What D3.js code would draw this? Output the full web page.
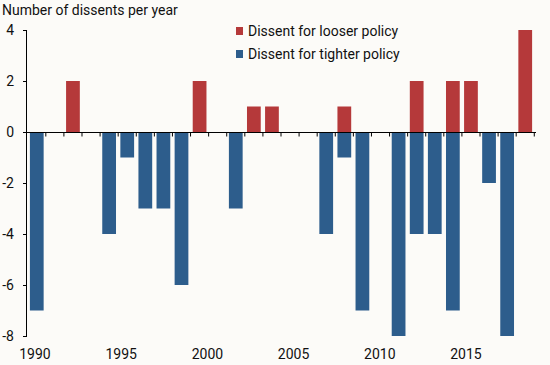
<!DOCTYPE html>
<html>
<head>
<meta charset="utf-8">
<script src="https://cdn.jsdelivr.net/npm/d3@7/dist/d3.min.js"></script>
<style>
  html, body { margin: 0; padding: 0; background: #fcfbf8; }
  svg { display: block; font-family: Roboto, "Noto Sans", sans-serif; }
</style>
</head>
<body>
<svg id="chart" width="550" height="365"></svg>
<script>
const years = d3.range(1990, 2018);
const looserYears = [1992, 1999, 2002, 2003, 2007, 2011, 2013, 2014, 2017];
const looserValues = [2, 2, 1, 1, 1, 2, 2, 2, 4];
const tighterYears = [1990, 1994, 1995, 1996, 1997, 1998, 2001, 2006, 2007, 2008, 2010, 2011, 2012, 2013, 2015, 2016];
const tighterValues = [-7, -4, -1, -3, -3, -6, -3, -4, -1, -7, -8, -4, -4, -7, -2, -8];
const yTicks = [4, 2, 0, -2, -4, -6, -8];
const xLabels = [1990, 1995, 2000, 2005, 2010, 2015];
const seriesNames = ["Dissent for looser policy", "Dissent for tighter policy"];
const colors = ["#b5393a", "#2d5d8c"];

const svg = d3.select("#chart");
const x = d3.scaleBand().domain(years).range([27, 535]).paddingInner(0.24).paddingOuter(0.16);
const y = d3.scaleLinear().domain([-8, 4]).range([336, 30]);
const xLab = d3.scaleLinear().domain([1990, 2015]).range([35, 466]);

// title
svg.append("text").attr("x", 2).attr("y", 15).attr("font-size", 14).attr("fill", "#111")
  .text("Number of dissents per year");

// bars
const mk = (ys, vs) => ys.map((yr, i) => ({ year: yr, v: vs[i] }));
svg.append("g").selectAll("rect").data(mk(looserYears, looserValues)).join("rect")
  .attr("x", d => x(d.year)).attr("width", x.bandwidth())
  .attr("y", d => y(d.v)).attr("height", d => y(0) - y(d.v)).attr("fill", colors[0]);
svg.append("g").selectAll("rect").data(mk(tighterYears, tighterValues)).join("rect")
  .attr("x", d => x(d.year)).attr("width", x.bandwidth())
  .attr("y", y(0)).attr("height", d => y(d.v) - y(0)).attr("fill", colors[1]);

// y axis
const yAxis = svg.append("g");
yAxis.append("line").attr("x1", 26.5).attr("x2", 26.5).attr("y1", y(4)).attr("y2", y(-8))
  .attr("stroke", "#000").attr("stroke-width", 1);
yAxis.selectAll("line.t").data(yTicks).join("line").attr("class", "t")
  .attr("x1", 23).attr("x2", 27).attr("y1", d => Math.round(y(d)) + 0.5).attr("y2", d => Math.round(y(d)) + 0.5)
  .attr("stroke", "#000");
yAxis.selectAll("text").data(yTicks).join("text")
  .attr("x", 14).attr("y", d => y(d) + 5).attr("text-anchor", "end")
  .attr("font-size", 14).attr("fill", "#111").text(d => d);

// zero line with band-boundary ticks
const step = x.step();
const zy = Math.round(y(0)) + 0.5;
svg.append("line").attr("x1", 23).attr("x2", 536).attr("y1", zy).attr("y2", zy).attr("stroke", "#000");
svg.append("g").selectAll("line").data(years).join("line")
  .attr("x1", d => x(d) + x.bandwidth() + step * x.paddingInner() / 2)
  .attr("x2", d => x(d) + x.bandwidth() + step * x.paddingInner() / 2)
  .attr("y1", zy).attr("y2", zy + 4).attr("stroke", "#000");

// x labels
svg.append("g").selectAll("text").data(xLabels).join("text")
  .attr("x", d => xLab(d)).attr("y", 359).attr("text-anchor", "middle")
  .attr("font-size", 14).attr("fill", "#111").text(d => d);

// legend
const leg = svg.append("g").selectAll("g").data(seriesNames).join("g")
  .attr("transform", (d, i) => `translate(236, ${27 + i * 23})`);
leg.append("rect").attr("width", 7).attr("height", 8).attr("fill", (d, i) => colors[i]);
leg.append("text").attr("x", 12).attr("y", 9).attr("font-size", 14).attr("fill", "#111").text(d => d);
</script>
</body>
</html>
